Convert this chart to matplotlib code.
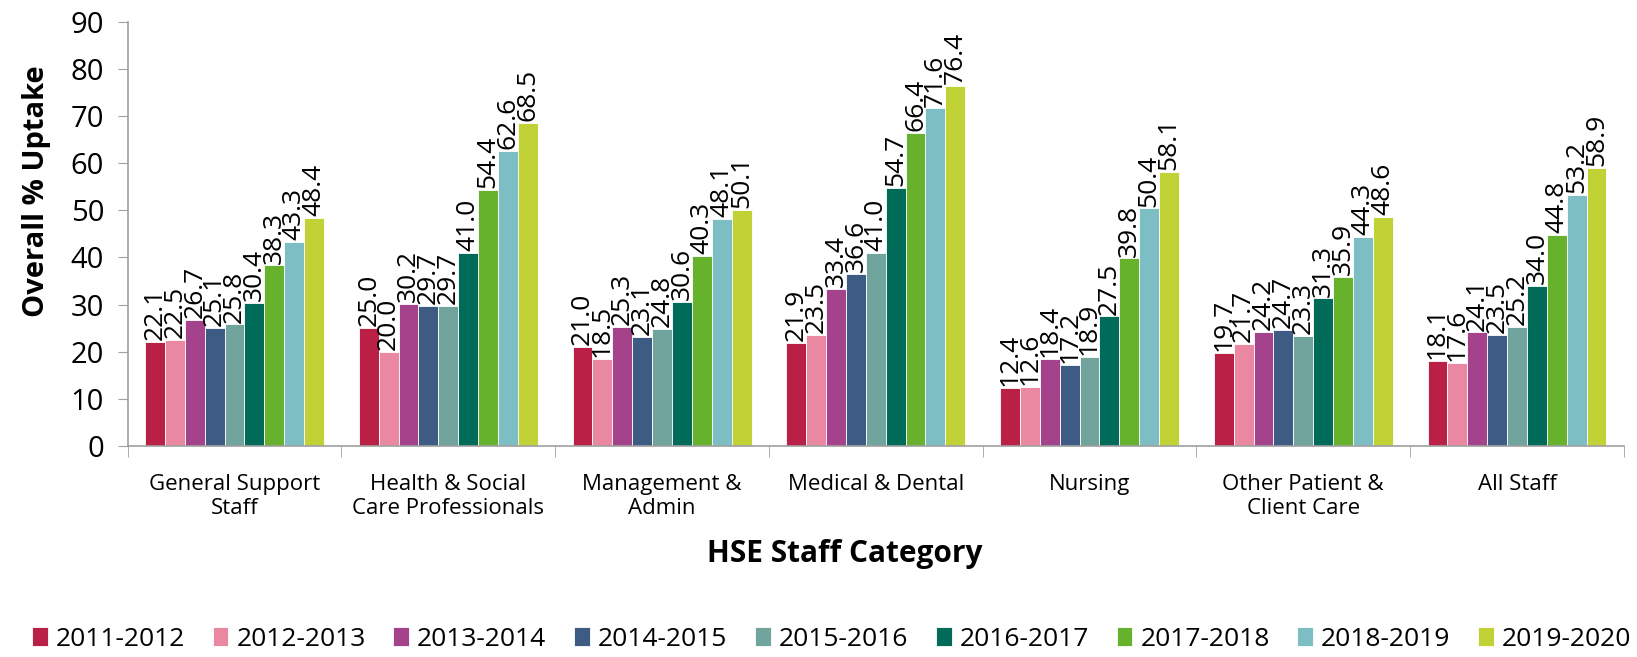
import numpy as np
import matplotlib
matplotlib.use('Agg')
import matplotlib.pyplot as plt

# Данные
categories = ['General Support\nStaff', 'Health & Social\nCare Professionals', 'Management &\nAdmin',
              'Medical & Dental', 'Nursing', 'Other Patient &\nClient Care', 'All Staff']
seasons = ['2011-2012', '2012-2013', '2013-2014', '2014-2015', '2015-2016',
           '2016-2017', '2017-2018', '2018-2019', '2019-2020']
colors = ['#BA2045', '#E988A0', '#A5428C', '#3D5B83', '#70A49C',
          '#006B58', '#66B22D', '#7DBDC4', '#C1D236']

general_support = [22.1, 22.5, 26.7, 25.1, 25.8, 30.4, 38.3, 43.3, 48.4]
health_social = [25.0, 20.0, 30.2, 29.7, 29.7, 41.0, 54.4, 62.6, 68.5]
management = [21.0, 18.5, 25.3, 23.1, 24.8, 30.6, 40.3, 48.1, 50.1]
medical = [21.9, 23.5, 33.4, 36.6, 41.0, 54.7, 66.4, 71.6, 76.4]
nursing = [12.4, 12.6, 18.4, 17.2, 18.9, 27.5, 39.8, 50.4, 58.1]
other_patient = [19.7, 21.7, 24.2, 24.7, 23.3, 31.3, 35.9, 44.3, 48.6]
all_staff = [18.1, 17.6, 24.1, 23.5, 25.2, 34.0, 44.8, 53.2, 58.9]

values = np.array([general_support, health_social, management, medical,
                   nursing, other_patient, all_staff])

plt.rcParams['font.family'] = ['Open Sans', 'DejaVu Sans']

fig = plt.figure(figsize=(16.37, 6.57), dpi=100)
ax = fig.add_axes([0.078, 0.321, 0.914, 0.646])

x = np.arange(len(categories))
width = 0.093
n = len(seasons)
for j in range(n):
    pos = x + (j - (n - 1) / 2) * width
    ax.bar(pos, values[:, j], width, color=colors[j], edgecolor='white',
           linewidth=0.6, label=seasons[j])
    for p, v in zip(pos, values[:, j]):
        ax.text(p, v + 0.4, f'{v:.1f}', rotation=90, ha='center', va='bottom',
                fontsize=19)

ax.set_xlim(-0.5, len(categories) - 0.5)
ax.set_ylim(0, 90)
ax.set_yticks(range(0, 91, 10))
ax.tick_params(axis='y', labelsize=21, length=7, color='#A0A0A0', pad=10)
ax.set_xticks(x)
ax.set_xticklabels(categories, fontsize=16)
ax.tick_params(axis='x', which='major', length=0, pad=20)
ax.set_xticks(np.arange(-0.5, len(categories), 1), minor=True)
ax.tick_params(axis='x', which='minor', length=8, color='#A0A0A0')

for s in ['top', 'right']:
    ax.spines[s].set_visible(False)
for s in ['left', 'bottom']:
    ax.spines[s].set_color('#A0A0A0')
    ax.spines[s].set_linewidth(1.2)

ax.set_ylabel('Overall % Uptake', fontsize=21, fontweight='bold')
ax.yaxis.set_label_coords(-0.051, 0.6)
ax.set_xlabel('HSE Staff Category', fontsize=21.5, fontweight='bold')
ax.xaxis.set_label_coords(0.479, -0.22)

fig.legend(loc='center', bbox_to_anchor=(0.508, 0.027), ncol=9, frameon=False,
           fontsize=19, handlelength=0.6, handleheight=0.75, handletextpad=0.3,
           columnspacing=1.05)

plt.savefig('out.png', dpi=100)
